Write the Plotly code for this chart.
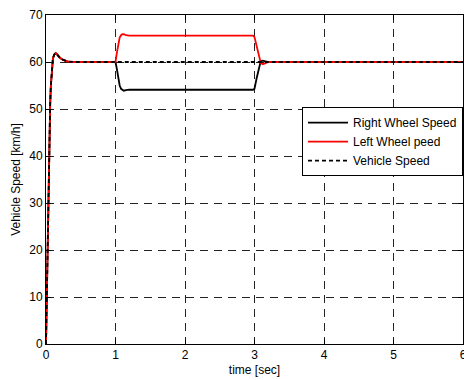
import plotly.graph_objects as go

# Speed traces [km/h] over time [sec]
t_start = [0, 0.01, 0.02, 0.03, 0.04, 0.05, 0.06, 0.07, 0.08, 0.09, 0.1,
           0.12, 0.14, 0.16, 0.18, 0.2, 0.24, 0.28, 0.32, 0.4, 1.0]
v_start = [0, 8, 18, 30, 40, 47, 51, 55, 58, 59.8, 60.8,
           61.6, 61.9, 61.6, 61.2, 60.9, 60.5, 60.2, 60.05, 60.0, 60.0]

t_turn = [1.02, 1.04, 1.06, 1.08, 1.1, 1.12, 1.15, 1.2, 2.98,
          3.0, 3.03, 3.06, 3.09, 3.12, 3.16, 3.2, 6.0]
right_turn = [58.5, 56.5, 55.0, 54.3, 54.0, 53.9, 54.0, 54.1, 54.1,
              54.3, 56.5, 58.7, 60.2, 60.3, 60.1, 60.0, 60.0]
left_turn = [62.0, 64.0, 65.2, 65.7, 65.9, 65.9, 65.7, 65.6, 65.6,
             65.3, 63.5, 61.5, 59.8, 59.5, 59.7, 60.0, 60.0]

time = t_start + t_turn
right_speed = v_start + right_turn
left_speed = v_start + left_turn
vehicle_speed = v_start + [60.0] * len(t_turn)

x_ticks = [0, 1, 2, 3, 4, 5, 6]
y_ticks = [0, 10, 20, 30, 40, 50, 60, 70]

font = "Liberation Sans, Arial, sans-serif"

fig = go.Figure()
fig.add_trace(go.Scatter(x=time, y=right_speed, mode="lines",
                         name="Right Wheel Speed",
                         line=dict(color="black", width=1.8)))
fig.add_trace(go.Scatter(x=time, y=left_speed, mode="lines",
                         name="Left Wheel peed",
                         line=dict(color="#ff0000", width=1.8)))
fig.add_trace(go.Scatter(x=time, y=vehicle_speed, mode="lines",
                         name="Vehicle Speed",
                         line=dict(color="black", width=1.8, dash="4px,3px")))

axis_common = dict(
    showline=True, linecolor="black", linewidth=1, mirror="ticks",
    ticks="inside", ticklen=5, tickcolor="black",
    showgrid=True, gridcolor="#222222", gridwidth=1, griddash="8px,6px",
    zeroline=False, ticklabeloverflow="allow", automargin=False,
    tickfont=dict(family=font, size=12, color="black"),
)

fig.update_xaxes(range=[0, 6], tickvals=x_ticks,
                 title=dict(text="time [sec]", standoff=4,
                            font=dict(family=font, size=12, color="black")),
                 **axis_common)
fig.update_yaxes(range=[0, 70], tickvals=y_ticks,
                 title=dict(text="Vehicle Speed [km/h]", standoff=6,
                            font=dict(family=font, size=12, color="black")),
                 **axis_common)

fig.update_layout(
    width=464, height=380,
    margin=dict(l=46, r=1, t=15, b=36),
    paper_bgcolor="white", plot_bgcolor="white",
    font=dict(family=font, size=12, color="black"),
    showlegend=True,
    legend=dict(x=1, y=0.72, xanchor="right", yanchor="top",
                bgcolor="white", bordercolor="black", borderwidth=1,
                font=dict(family=font, size=12, color="black"),
                tracegroupgap=0, itemwidth=40),
)

fig.write_html("out.html")
